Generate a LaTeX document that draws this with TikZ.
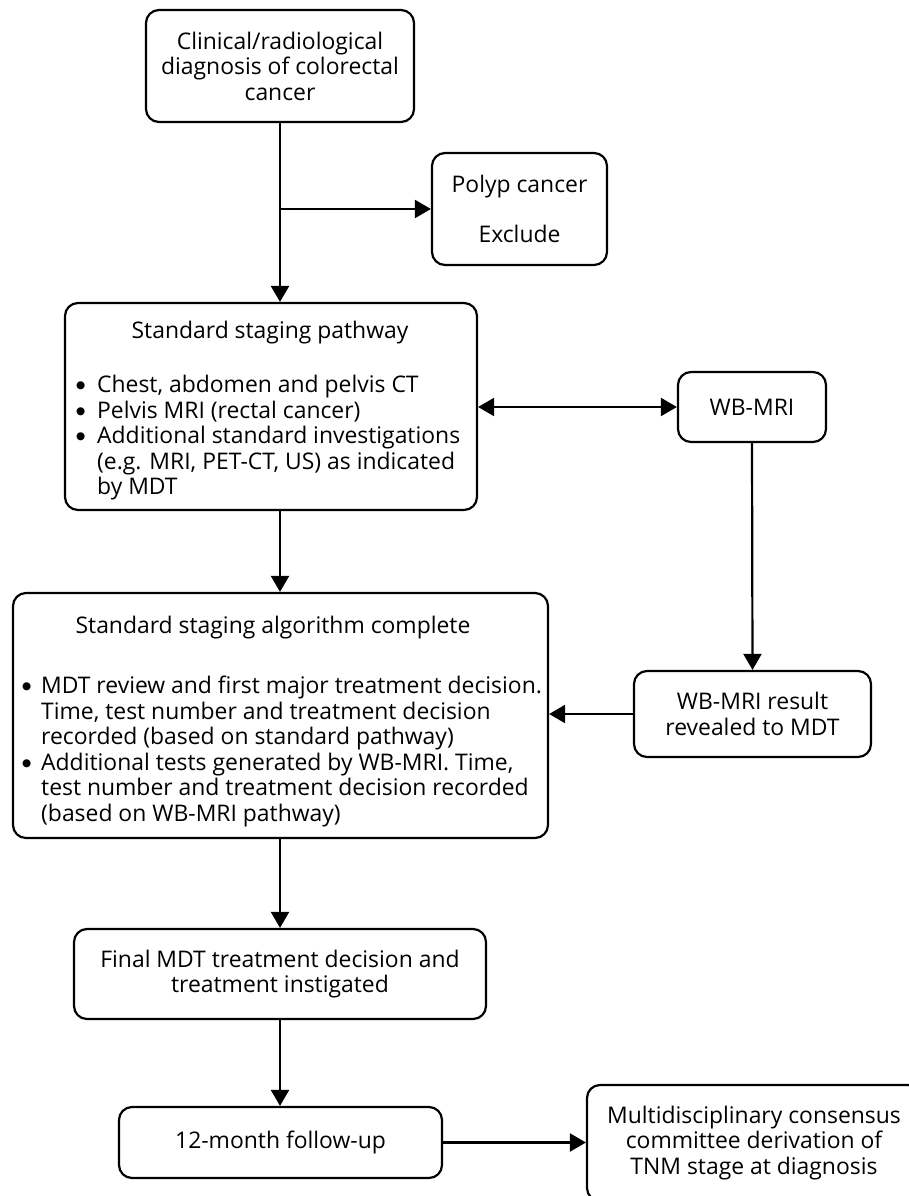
\documentclass[tikz,border=0pt]{standalone}
\usepackage{fontspec}
\setmainfont{Open Sans}
\newfontfamily\dvfont{DejaVu Sans}
\usetikzlibrary{arrows.meta}
\newcommand\fs{\fontsize{22.9}{25.5}\selectfont}
\newcommand\bigdot{\raisebox{4.2pt}[0pt][0pt]{\dvfont\fontsize{10.5}{10}\selectfont ●}}
\newcommand\bulA{\makebox[22pt][l]{\hspace*{1pt}\bigdot}}
\newcommand\indA{\hspace*{22pt}}
\newcommand\bulB{\makebox[20pt][l]{\hspace*{1pt}\bigdot}}
\newcommand\indB{\hspace*{20pt}}
\begin{document}
\begin{tikzpicture}[x=1pt,y=-1pt,
  box/.style={draw, line width=2.2pt, rounded corners=13pt, align=center, inner sep=0pt, font=\fs},
  txt/.style={inner sep=0pt, font=\fs, align=left},
  arr/.style={line width=2.2pt, -{Triangle[length=16pt,width=18pt]}},
  darr/.style={line width=2.2pt, {Triangle[length=16pt,width=18pt]}-{Triangle[length=16pt,width=18pt]}}]
\fill[white] (0,0) rectangle (909,1196);
\useasboundingbox (0,0) rectangle (909,1196);
\begin{scope}
\clip (0,0) rectangle (909,1196);
\node[box, minimum width=268pt, minimum height=112pt] (b1) at (280,66) {Clinical/radiological\\diagnosis of colorectal\\cancer};
\node[box, minimum width=175pt, minimum height=112pt] (polyp) at (519.5,209) {Polyp cancer\\[25pt]Exclude};
\node[box, minimum width=412pt, minimum height=207pt] (b2) at (271,406.5) {};
\node[txt] (b2t) at (270,333) {Standard staging pathway};
\node[txt, anchor=west] (b2l) at (75,438) {\bulA Chest, abdomen and pelvis CT\\\bulA Pelvis MRI (rectal cancer)\\\bulA Additional standard investigations\\\indA (e.g. MRI, PET-CT, US) as indicated\\\indA by MDT};
\node[box, minimum width=148pt, minimum height=70pt] (wb) at (752,407) {WB-MRI};
\node[box, minimum width=535pt, minimum height=245pt] (b3) at (280.5,715.5) {};
\node[txt] (b3t) at (273,628) {Standard staging algorithm complete};
\node[txt, anchor=west] (b3l) at (21,751.5) {\bulB MDT review and first major treatment decision.\\\indB Time, test number and treatment decision\\\indB recorded (based on standard pathway)\\\bulB Additional tests generated by WB-MRI. Time,\\\indB test number and treatment decision recorded\\\indB (based on WB-MRI pathway)};
\node[box, minimum width=237pt, minimum height=86pt] (b4) at (752.5,714) {WB-MRI result\\revealed to MDT};
\node[box, minimum width=412pt, minimum height=90pt] (b5) at (280,974) {Final MDT treatment decision and\\treatment instigated};
\node[box, minimum width=323pt, minimum height=71pt] (b6) at (280.5,1142.5) {12-month follow-up};
\node[box, minimum width=334pt, minimum height=116pt] (b7) at (754,1143) {Multidisciplinary consensus\\committee derivation of\\TNM stage at diagnosis};
\coordinate (br) at (b1.south |- polyp.west);
\draw[arr] (b1.south) -- (b1.south |- b2.north);
\draw[arr] (br) -- (polyp.west);
\draw[arr] (b1.south |- b2.south) -- (b1.south |- b3.north);
\draw[darr] (b2.east |- wb.west) -- (wb.west);
\draw[arr] (wb.south) -- (b4.north);
\draw[arr] (b4.west) -- (b3.east |- b4.west);
\draw[arr] (b1.south |- b3.south) -- (b1.south |- b5.north);
\draw[arr] (b1.south |- b5.south) -- (b1.south |- b6.north);
\draw[arr] (b6.east) -- (b6.east -| b7.west);
\end{scope}
\end{tikzpicture}
\end{document}
